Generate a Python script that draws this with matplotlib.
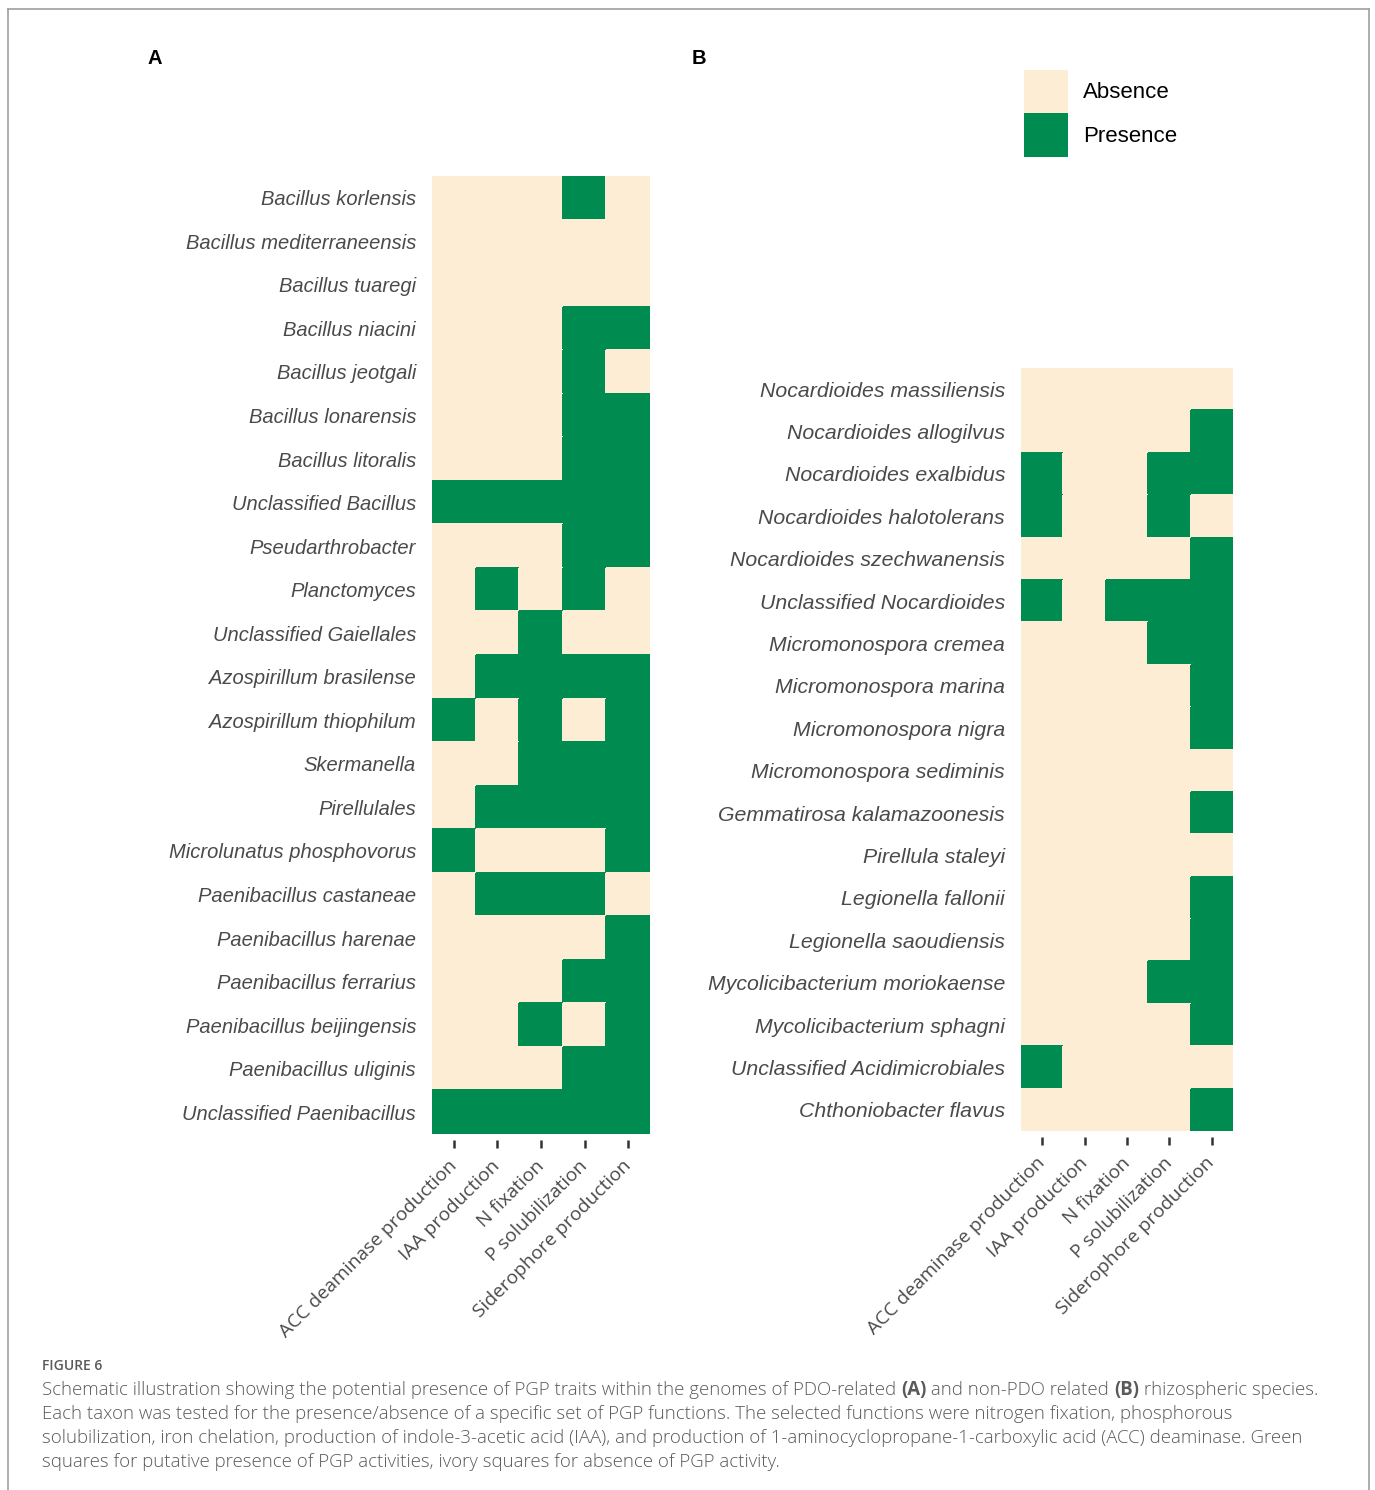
import numpy as np
import matplotlib
matplotlib.use("Agg")
import matplotlib.pyplot as plt
from matplotlib.colors import ListedColormap
from matplotlib.patches import Patch
from matplotlib.lines import Line2D

# --- data ---
functions = ["ACC deaminase production", "IAA production", "N fixation",
             "P solubilization", "Siderophore production"]

taxa_a = ["Bacillus korlensis", "Bacillus mediterraneensis", "Bacillus tuaregi",
          "Bacillus niacini", "Bacillus jeotgali", "Bacillus lonarensis",
          "Bacillus litoralis", "Unclassified Bacillus", "Pseudarthrobacter",
          "Planctomyces", "Unclassified Gaiellales", "Azospirillum brasilense",
          "Azospirillum thiophilum", "Skermanella", "Pirellulales",
          "Microlunatus phosphovorus", "Paenibacillus castaneae",
          "Paenibacillus harenae", "Paenibacillus ferrarius",
          "Paenibacillus beijingensis", "Paenibacillus uliginis",
          "Unclassified Paenibacillus"]
presence_a = [
    [0, 0, 0, 1, 0],
    [0, 0, 0, 0, 0],
    [0, 0, 0, 0, 0],
    [0, 0, 0, 1, 1],
    [0, 0, 0, 1, 0],
    [0, 0, 0, 1, 1],
    [0, 0, 0, 1, 1],
    [1, 1, 1, 1, 1],
    [0, 0, 0, 1, 1],
    [0, 1, 0, 1, 0],
    [0, 0, 1, 0, 0],
    [0, 1, 1, 1, 1],
    [1, 0, 1, 0, 1],
    [0, 0, 1, 1, 1],
    [0, 1, 1, 1, 1],
    [1, 0, 0, 0, 1],
    [0, 1, 1, 1, 0],
    [0, 0, 0, 0, 1],
    [0, 0, 0, 1, 1],
    [0, 0, 1, 0, 1],
    [0, 0, 0, 1, 1],
    [1, 1, 1, 1, 1],
]

taxa_b = ["Nocardioides massiliensis", "Nocardioides allogilvus",
          "Nocardioides exalbidus", "Nocardioides halotolerans",
          "Nocardioides szechwanensis", "Unclassified Nocardioides",
          "Micromonospora cremea", "Micromonospora marina",
          "Micromonospora nigra", "Micromonospora sediminis",
          "Gemmatirosa kalamazoonesis", "Pirellula staleyi",
          "Legionella fallonii", "Legionella saoudiensis",
          "Mycolicibacterium moriokaense", "Mycolicibacterium sphagni",
          "Unclassified Acidimicrobiales", "Chthoniobacter flavus"]
presence_b = [
    [0, 0, 0, 0, 0],
    [0, 0, 0, 0, 1],
    [1, 0, 0, 1, 1],
    [1, 0, 0, 1, 0],
    [0, 0, 0, 0, 1],
    [1, 0, 1, 1, 1],
    [0, 0, 0, 1, 1],
    [0, 0, 0, 0, 1],
    [0, 0, 0, 0, 1],
    [0, 0, 0, 0, 0],
    [0, 0, 0, 0, 1],
    [0, 0, 0, 0, 0],
    [0, 0, 0, 0, 1],
    [0, 0, 0, 0, 1],
    [0, 0, 0, 1, 1],
    [0, 0, 0, 0, 1],
    [1, 0, 0, 0, 0],
    [0, 0, 0, 0, 1],
]

legend_labels = ["Absence", "Presence"]

IVORY = "#fdedd5"
GREEN = "#008b50"
TXT = "#4a4a4a"
cmap = ListedColormap([IVORY, GREEN])

W, H = 1375, 1490
fig = plt.figure(figsize=(W / 100, H / 100), dpi=100)


def px_axes(x0, y0, x1, y1):
    return fig.add_axes([x0 / W, 1 - y1 / H, (x1 - x0) / W, (y1 - y0) / H])


def heatmap(ax, taxa, grid, label_size):
    data = np.array(grid)
    # spine moved first: set_position resets the tick labels
    for s in ax.spines.values():
        s.set_visible(False)
    ax.spines["bottom"].set_position(("outward", 4))
    ax.pcolormesh(data, cmap=cmap, vmin=0, vmax=1,
                  edgecolors="face", linewidth=0.3)
    ax.set_xlim(0, len(functions))
    ax.set_ylim(len(taxa), 0)
    ax.set_yticks(np.arange(len(taxa)) + 0.5)
    ax.set_yticklabels(taxa, fontsize=label_size, style="italic",
                       family="Liberation Sans", color=TXT)
    ax.set_xticks(np.arange(len(functions)) + 0.5)
    ax.set_xticklabels(functions, rotation=45, ha="right", va="center",
                       rotation_mode="anchor", fontsize=13.8,
                       family="Open Sans", color=TXT)
    ax.tick_params(axis="y", length=0, pad=11.5)
    ax.tick_params(axis="x", length=6, width=1.8, color="#333333", pad=11)


ax_a = px_axes(432, 176, 650, 1134)
heatmap(ax_a, taxa_a, presence_a, 14.5)

ax_b = px_axes(1021, 368, 1233, 1131)
heatmap(ax_b, taxa_b, presence_b, 15.3)

# panel letters
fig.text(148 / W, 1 - 58 / H, "A", fontsize=14.5, weight="bold",
         family="Liberation Sans", va="center")
fig.text(692 / W, 1 - 58 / H, "B", fontsize=14.5, weight="bold",
         family="Liberation Sans", va="center")

# legend
handles = [Patch(facecolor=c, edgecolor="none") for c in (IVORY, GREEN)]
fig.legend(handles, legend_labels, loc="upper left",
           bbox_to_anchor=(1024 / W, 1 - 70 / H), frameon=False,
           handlelength=2.0, handleheight=2.62,
           labelspacing=0, handletextpad=0.65, borderpad=0, borderaxespad=0,
           prop={"family": "Liberation Sans", "size": 16})

# outer frame
for xs, ys in [((8, 8), (9, H)), ((8, 1369), (9, 9)), ((1369, 1369), (9, H))]:
    fig.add_artist(Line2D([x / W for x in xs], [1 - y / H for y in ys],
                          color="#a0a0a0", lw=1.2))

# caption
CAP = "#5a5a5a"
fig.text(42 / W, 1 - 1366 / H, "FIGURE 6", fontsize=10, color=CAP,
         family="Open Sans", weight="semibold", va="center")

renderer = fig.canvas.get_renderer()


def advance(s, **kw):
    # width of a run including its spaces
    a = fig.text(0, 0, "|" + s + "|", **kw)
    b = fig.text(0, 0, "||", **kw)
    w = a.get_window_extent(renderer).width - b.get_window_extent(renderer).width
    a.remove()
    b.remove()
    return w / W


def caption_line(y, runs):
    x = 42 / W
    for s, bold in runs:
        kw = dict(fontsize=13.4, color=CAP, family="Open Sans",
                  weight="bold" if bold else "light")
        fig.text(x, 1 - y / H, s, va="center", **kw)
        x += advance(s, **kw)


caption_line(1390, [("Schematic illustration showing the potential presence of PGP traits "
                     "within the genomes of PDO-related ", False), ("(A)", True),
                    (" and non-PDO related ", False), ("(B)", True),
                    (" rhizospheric species.", False)])
caption_line(1414, [("Each taxon was tested for the presence/absence of a specific set of "
                     "PGP functions. The selected functions were nitrogen fixation, "
                     "phosphorous", False)])
caption_line(1438, [("solubilization, iron chelation, production of indole-3-acetic acid "
                     "(IAA), and production of 1-aminocyclopropane-1-carboxylic acid (ACC) "
                     "deaminase. Green", False)])
caption_line(1462, [("squares for putative presence of PGP activities, ivory squares for "
                     "absence of PGP activity.", False)])

fig.savefig("out.png", dpi=100, facecolor="white")
